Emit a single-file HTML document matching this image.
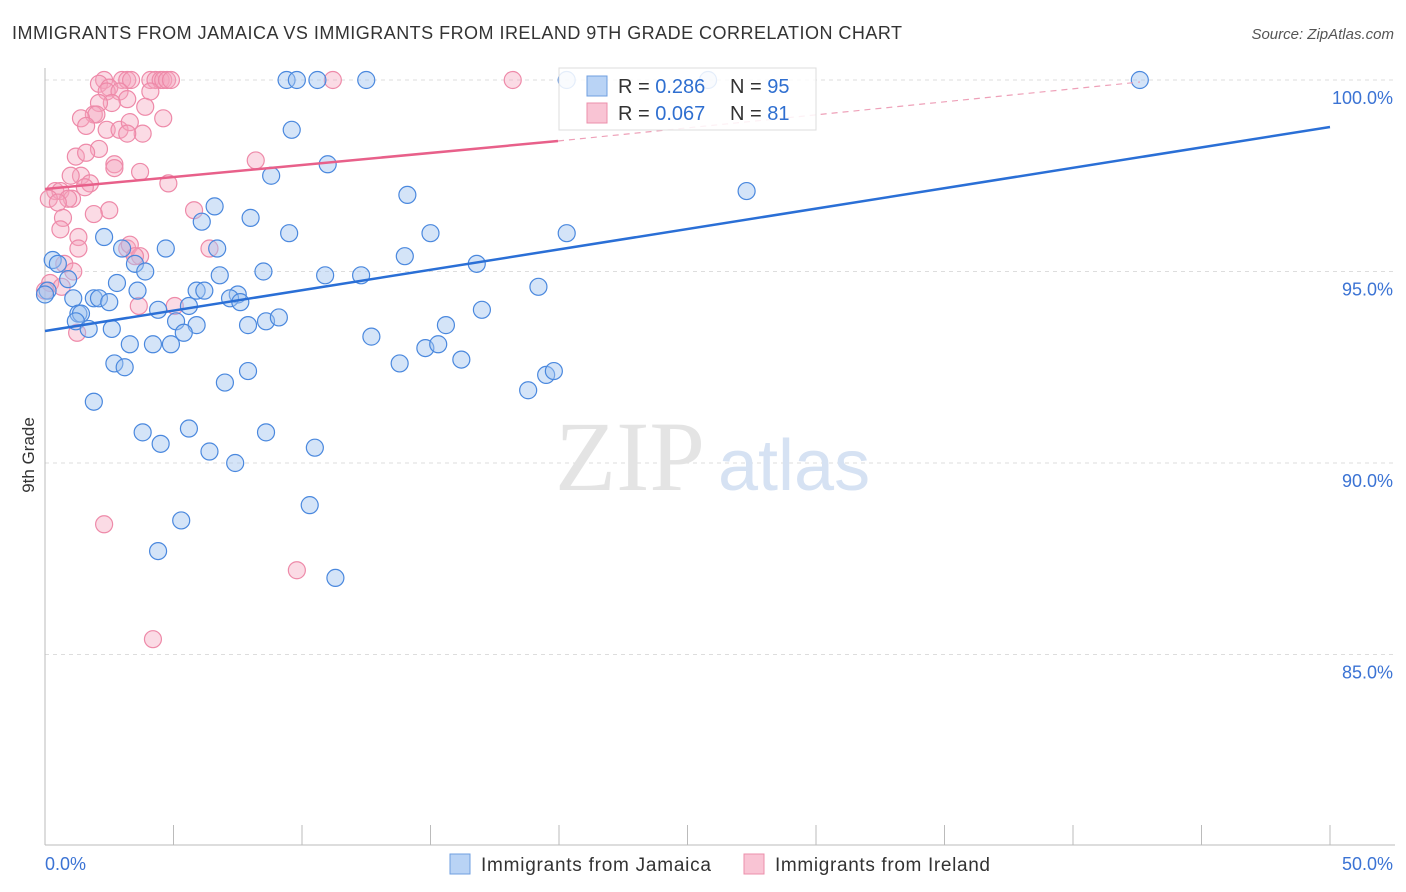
<!DOCTYPE html>
<html><head><meta charset="utf-8"><style>
body{margin:0;background:#fff;font-family:"Liberation Sans",sans-serif;}
svg{display:block}
</style></head><body>
<svg id="chart" width="1406" height="892">
<text x="12" y="39" font-size="18" fill="#333" textLength="890">IMMIGRANTS FROM JAMAICA VS IMMIGRANTS FROM IRELAND 9TH GRADE CORRELATION CHART</text>
<text x="1394" y="39" font-size="15" font-style="italic" fill="#555" text-anchor="end">Source: ZipAtlas.com</text>
<text transform="translate(34,455) rotate(-90)" font-size="17" fill="#333" text-anchor="middle">9th Grade</text>
<g id="grid"></g>
<text x="555" y="490" font-size="100" font-family="Liberation Serif,serif" fill="#e4e4e4">ZIP</text>
<text x="718" y="490" font-size="72" fill="#d6e2f3">atlas</text>
<g id="points"></g>
<g id="lines"></g>
<g>
<rect x="559" y="68" width="257" height="62" fill="rgba(255,255,255,0.85)" stroke="#ddd"/>
<rect x="587" y="76" width="20" height="20" fill="#b9d3f5" stroke="#6f9fe0"/>
<text x="618" y="93" font-size="20" fill="#333">R = <tspan fill="#2f6fd0">0.286</tspan></text>
<text x="730" y="93" font-size="20" fill="#333">N = <tspan fill="#2f6fd0">95</tspan></text>
<rect x="587" y="103" width="20" height="20" fill="#f9c4d4" stroke="#ec8fab"/>
<text x="618" y="120" font-size="20" fill="#333">R = <tspan fill="#2f6fd0">0.067</tspan></text>
<text x="730" y="120" font-size="20" fill="#333">N = <tspan fill="#2f6fd0"> 81</tspan></text>
</g>
<g>
<rect x="450" y="854" width="20" height="20" fill="#b9d3f5" stroke="#6f9fe0"/>
<text x="481" y="871" font-size="19" fill="#333" textLength="230">Immigrants from Jamaica</text>
<rect x="744" y="854" width="20" height="20" fill="#f9c4d4" stroke="#ec8fab"/>
<text x="775" y="871" font-size="19" fill="#333" textLength="215">Immigrants from Ireland</text>
</g>
</svg>
<script>
const yTicks=[100,95,90,85];
const xTickLabels=["0.0%","50.0%"];
const blueX=[9.4,9.8,10.6,12.5,20.3,25.8,42.6,9.6,11.0,8.8,14.1,27.3,6.6,8.0,6.1,9.5,15.0,20.3,2.3,3.0,4.7,6.7,0.3,14.0,0.5,3.5,3.9,8.5,10.9,12.3,16.8,6.8,0.9,2.8,19.2,3.6,5.9,6.2,7.5,1.1,1.9,2.1,2.5,7.2,7.6,5.6,4.4,17.0,1.3,1.4,5.1,5.9,7.9,8.6,9.1,15.6,1.2,1.7,2.6,5.4,12.7,4.2,4.9,3.3,14.8,15.3,2.7,3.1,13.8,16.2,7.9,7.0,19.5,19.8,18.8,1.9,3.8,5.6,8.6,4.5,6.4,7.4,10.5,10.3,5.3,4.4,11.3,0.1,0.0];
const blueY=[100,100,100,100,100,100,100,98.7,97.8,97.5,97.0,97.1,96.7,96.4,96.3,96.0,96.0,96.0,95.9,95.6,95.6,95.6,95.3,95.4,95.2,95.2,95.0,95.0,94.9,94.9,95.2,94.9,94.8,94.7,94.6,94.5,94.5,94.5,94.4,94.3,94.3,94.3,94.2,94.3,94.2,94.1,94.0,94.0,93.9,93.9,93.7,93.6,93.6,93.7,93.8,93.6,93.7,93.5,93.5,93.4,93.3,93.1,93.1,93.1,93.0,93.1,92.6,92.5,92.6,92.7,92.4,92.1,92.3,92.4,91.9,91.6,90.8,90.9,90.8,90.5,90.3,90.0,90.4,88.9,88.5,87.7,87.0,94.5,94.4];
const pinkX=[2.3,3.0,3.2,3.35,4.1,4.3,4.5,4.6,4.75,4.9,11.2,18.2,2.1,2.5,2.4,2.9,4.1,3.2,2.6,2.1,3.9,1.9,2.0,4.6,1.4,1.6,2.4,2.9,3.3,3.8,2.1,3.2,1.2,2.7,3.7,8.2,1.4,2.7,1.75,1.55,4.8,0.4,0.6,1.05,0.9,0.15,0.5,5.8,2.5,1.9,0.7,0.6,1.3,6.4,3.2,3.3,1.3,3.7,3.5,0.75,1.1,0.2,0.65,0.0,5.05,3.65,1.25,2.3,9.8,4.2,1.0,1.6];
const pinkY=[100,100,100,100,100,100,100,100,100,100,100,100,99.9,99.8,99.7,99.7,99.7,99.5,99.4,99.4,99.3,99.1,99.1,99.0,99.0,98.8,98.7,98.7,98.9,98.6,98.2,98.6,98.0,97.8,97.6,97.9,97.5,97.7,97.3,97.2,97.3,97.1,97.1,96.9,96.9,96.9,96.8,96.6,96.6,96.5,96.4,96.1,95.9,95.6,95.6,95.7,95.6,95.4,95.4,95.2,95.0,94.7,94.6,94.5,94.1,94.1,93.4,88.4,87.2,85.4,97.5,98.1];
const S="http://www.w3.org/2000/svg";
const X0=45,X1=1330;const sx=v=>X0+(v/50)*(X1-X0);const sy=v=>80+(100-v)*38.3;
function mk(t,a,p){const e=document.createElementNS(S,t);for(const k in a)e.setAttribute(k,a[k]);p.appendChild(e);return e;}
const grid=document.getElementById('grid');
yTicks.forEach(t=>{
 const l=mk('line',{x1:45,x2:1395,y1:sy(t),y2:sy(t),stroke:'#ddd','stroke-dasharray':'4,4'},grid);
 
 
 const tx=mk('text',{x:1393,y:sy(t)+24,'font-size':18,fill:'#3b73d4','text-anchor':'end'},grid);
 tx.textContent=t.toFixed(1)+'%';
 
 
});
mk('line',{x1:45,x2:45,y1:68,y2:845,stroke:'#bbb'},grid);
mk('line',{x1:45,x2:1395,y1:845,y2:845,stroke:'#bbb'},grid);
for(let i=0;i<=10;i++){const l=mk('line',{x1:sx(i*5),x2:sx(i*5),y1:845,y2:825,stroke:'#bbb'},grid);
 
 }
const t0=mk('text',{x:45,y:870,'font-size':18,fill:'#3b73d4'},grid);t0.textContent=xTickLabels[0];


const t1=mk('text',{x:1393,y:870,'font-size':18,fill:'#3b73d4','text-anchor':'end'},grid);t1.textContent=xTickLabels[1];


const pts=document.getElementById('points');
pinkX.forEach((x,i)=>{const c=mk('circle',{cx:sx(x),cy:sy(pinkY[i]),r:8.5,fill:'rgba(246,165,190,0.4)',stroke:'#ee8aa9','stroke-width':1.2},pts);
 
 });
blueX.forEach((x,i)=>{const c=mk('circle',{cx:sx(x),cy:sy(blueY[i]),r:8.5,fill:'rgba(160,195,240,0.45)',stroke:'#4a88de','stroke-width':1.2},pts);
 
 });
const lg=document.getElementById('lines');
const bl=mk('line',{x1:45,y1:331,x2:1330,y2:127,stroke:'#2a6fd6','stroke-width':2.5},lg);


const pl=mk('line',{x1:45,y1:189,x2:558,y2:141,stroke:'#e8608a','stroke-width':2.5},lg);


const pd=mk('line',{x1:558,y1:141,x2:1140,y2:82,stroke:'#eea0b8','stroke-width':1.2,'stroke-dasharray':'6,5'},lg);


</script>
</body></html>
